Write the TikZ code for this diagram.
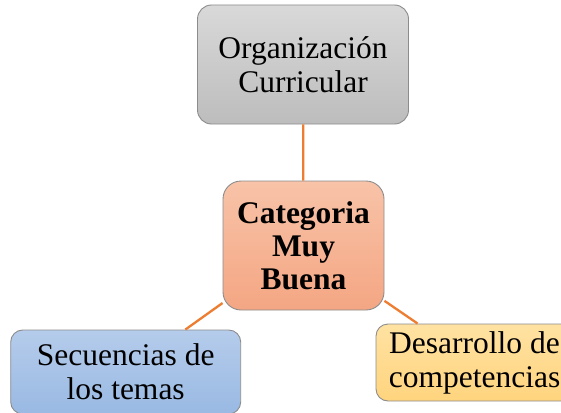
\documentclass[tikz,border=0pt]{standalone}
\usepackage{fontspec}
\setmainfont{Liberation Serif}
\usepackage{xcolor}
\usetikzlibrary{positioning}

\definecolor{linkorange}{HTML}{ED7D31}
\definecolor{boxedge}{HTML}{8C8C8C}

\begin{document}
\begin{tikzpicture}[x=1pt,y=-1pt]
        \useasboundingbox (0,0) rectangle (561,412);
        \begin{scope}[every node/.style={draw=boxedge,line width=0.9pt,rounded corners=14pt,align=center,
            font=\fontsize{31.5}{34}\selectfont,inner sep=2pt}]
          \node[top color=gray!30,bottom color=gray!52,minimum width=211pt,minimum height=119pt] (org) at (303,64.5) {Organización\\Curricular};
          \node[top color={rgb,255:red,248;green,195;blue,168},bottom color={rgb,255:red,244;green,166;blue,131},
            minimum width=161pt,minimum height=129pt,rounded corners=18pt,font=\fontsize{31.5}{33}\selectfont\bfseries] (cat) at (303.5,245.5) {Categoria\\Muy\\Buena};
          \node[top color={rgb,255:red,181;green,204;blue,235},bottom color={rgb,255:red,153;green,185;blue,227},
            minimum width=230pt,minimum height=84pt,rounded corners=12pt] (sec) at (125.7,372) {Secuencias de\\los temas};
          \node[top color={rgb,255:red,255;green,226;blue,162},bottom color={rgb,255:red,255;green,212;blue,126},
            minimum width=197pt,minimum height=77pt,rounded corners=12pt] (des) at (474.5,362.5) {Desarrollo de\\competencias};
        \end{scope}
        \begin{scope}[every edge/.style={draw=linkorange,line width=2.3pt}]
          \path (org) edge (cat);
          \path (cat) edge (sec);
          \path (cat) edge (des);
        \end{scope}
      \end{tikzpicture}
\end{document}
